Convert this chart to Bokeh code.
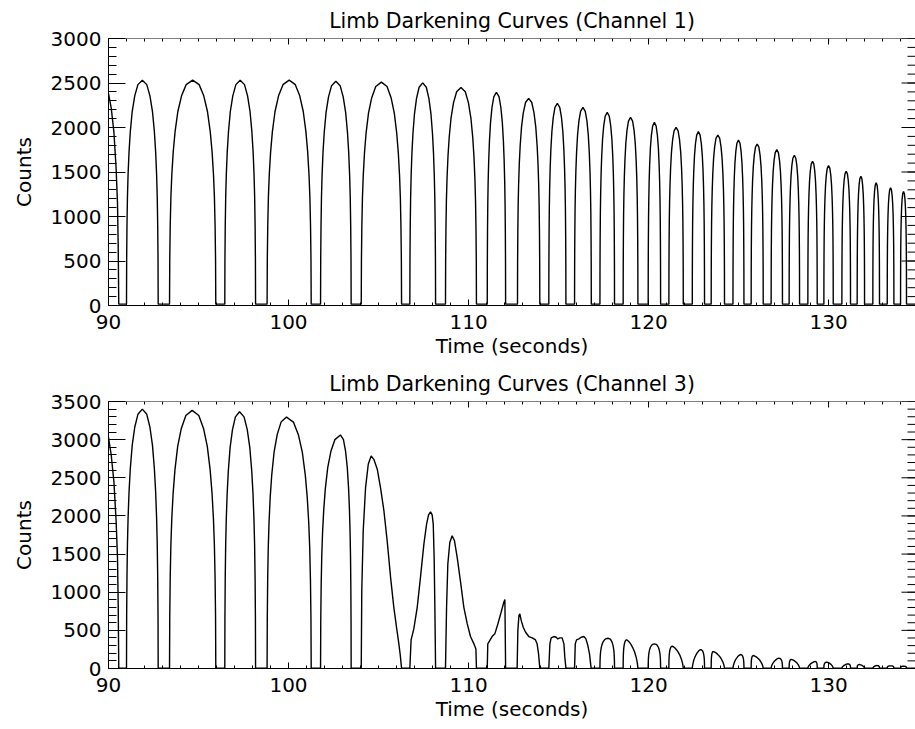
import numpy as np
from bokeh.plotting import figure
from bokeh.layouts import column
from bokeh.models import FixedTicker, Range1d, Span
from bokeh.embed import file_html
from bokeh.resources import INLINE

# ---------------- axis ticks ----------------
X_MAJOR = [90, 100, 110, 120, 130]
X_MINOR = list(range(90, 136))
Y1_MAJOR = [0, 500, 1000, 1500, 2000, 2500, 3000]
Y1_MINOR = list(range(0, 3001, 100))
Y3_MAJOR = [0, 500, 1000, 1500, 2000, 2500, 3000, 3500]
Y3_MINOR = list(range(0, 3501, 100))
X_MIN, X_MAX = 90.0, 134.83

# ---------------- arch timing (same rotation for both channels) ----------------
ARCH_START = [91.0, 93.39, 96.46, 98.81, 101.78, 104.04, 106.74, 108.72, 111.04, 112.72,
              114.46, 115.89, 117.3, 118.59, 119.98, 121.13, 122.43, 123.48, 124.69, 125.7,
              126.81, 127.81, 128.85, 129.74, 130.74, 131.59, 132.46, 133.26, 134.0]
ARCH_END = [92.76, 95.96, 98.17, 101.26, 103.48, 106.28, 108.17, 110.44, 112.06, 113.96,
            115.41, 116.82, 118.11, 119.41, 120.67, 121.93, 123.11, 124.22, 125.3, 126.37,
            127.44, 128.39, 129.37, 130.26, 131.22, 132.0, 132.83, 133.63, 134.33]

# ---------------- channel 1 ----------------
CH1_BASE = 15
CH1_HEAD_T = [90.0, 90.15, 90.30, 90.42, 90.50, 90.54, 90.57]
CH1_HEAD_C = [2380, 2220, 1950, 1550, 1150, 650, 15]
CH1_PEAK = [2532, 2532, 2532, 2532, 2520, 2510, 2502, 2450, 2394, 2327,
            2271, 2226, 2170, 2114, 2058, 2002, 1953, 1916, 1860, 1815,
            1752, 1688, 1621, 1572, 1509, 1453, 1379, 1323, 1281]
CH1_PEAK_FRAC = [0.5] * 29

# ---------------- channel 3 ----------------
CH3_BASE = 5
CH3_HEAD_T = [90.0, 90.15, 90.30, 90.42, 90.50, 90.54, 90.57]
CH3_HEAD_C = [3030, 2800, 2450, 1950, 1450, 820, 5]
CH3_PEAK = [3400, 3384, 3366, 3296, 3061, 2786, 2054, 1740, 903, 715,
            419, 419, 397, 375, 323, 292, 248, 222, 183, 170,
            135, 118, 92, 83, 61, 52, 39, 35, 30]
CH3_PEAK_FRAC = [0.5, 0.49, 0.48, 0.44, 0.65, 0.5, 0.5, 0.5, 0.5, 0.5,
                 0.5, 0.5, 0.55, 0.23, 0.5, 0.23, 0.68, 0.15, 0.7, 0.17,
                 0.68, 0.2, 0.8, 0.3, 0.7, 0.3, 0.6, 0.5, 0.5]
# irregular channel-3 passes, read point by point
CH3_A6_T = [104.04, 104.07, 104.15, 104.28, 104.43, 104.59, 104.74, 104.93, 105.11, 105.30,
            105.48, 105.67, 105.85, 106.00, 106.13, 106.20, 106.28]
CH3_A6_C = [5, 1020, 1805, 2372, 2677, 2786, 2742, 2612, 2372, 2067,
            1674, 1195, 802, 541, 323, 192, 5]
CH3_A7_T = [106.74, 106.81, 106.96, 107.15, 107.33, 107.52, 107.67, 107.78, 107.89, 107.98,
            108.04, 108.09, 108.13, 108.17]
CH3_A7_C = [5, 375, 519, 802, 1195, 1631, 1892, 2014, 2054, 2014, 1892, 1456, 802, 5]
CH3_A8_T = [108.72, 108.78, 108.85, 108.96, 109.09, 109.22, 109.37, 109.56, 109.74, 109.93,
            110.11, 110.30, 110.41, 110.44]
CH3_A8_C = [5, 802, 1369, 1652, 1740, 1674, 1456, 1129, 802, 584, 419, 323, 257, 5]
CH3_A9_T = [111.04, 111.07, 111.17, 111.31, 111.46, 111.63, 111.81, 111.96, 112.02, 112.06]
CH3_A9_C = [5, 323, 362, 419, 454, 584, 737, 868, 903, 5]
CH3_A10_T = [112.70, 112.74, 112.80, 112.85, 112.93, 113.04, 113.17, 113.35, 113.54, 113.72,
             113.81, 113.89, 113.96]
CH3_A10_C = [5, 497, 693, 715, 628, 541, 475, 419, 401, 375, 323, 192, 5]
CH3_A11_T = [114.46, 114.52, 114.59, 114.74, 114.87, 114.96, 115.07, 115.20, 115.30, 115.35, 115.41]
CH3_A11_C = [5, 323, 401, 419, 410, 388, 401, 401, 323, 144, 5]
CH3_A12_T = [115.89, 115.93, 116.00, 116.13, 116.26, 116.41, 116.52, 116.63, 116.72, 116.81]
CH3_A12_C = [5, 323, 375, 388, 410, 419, 388, 301, 192, 5]
CH3_SPECIAL = {5: (CH3_A6_T, CH3_A6_C), 6: (CH3_A7_T, CH3_A7_C), 7: (CH3_A8_T, CH3_A8_C),
               8: (CH3_A9_T, CH3_A9_C), 9: (CH3_A10_T, CH3_A10_C), 10: (CH3_A11_T, CH3_A11_C),
               11: (CH3_A12_T, CH3_A12_C)}

# ---------------- arch shape (read from one wide pass), base -> peak ----------------
STEEP_F = [0, 0.01, 0.03, 0.06, 0.10, 0.16, 0.24, 0.36, 0.52, 0.72, 1.0]
STEEP_H = [0, 0.20, 0.35, 0.48, 0.58, 0.68, 0.77, 0.86, 0.93, 0.98, 1.0]
SLOW_F = [0, 0.05, 0.15, 0.30, 0.45, 0.60, 0.75, 0.90, 1.0]
SLOW_H = [0, 0.18, 0.38, 0.58, 0.72, 0.83, 0.92, 0.98, 1.0]


def arch_points(t0, t1, peak, frac, base, small=False):
    tp = t0 + frac * (t1 - t0)
    lf, lh = STEEP_F, STEEP_H
    rf, rh = STEEP_F, STEEP_H
    if small and frac < 0.45:
        rf, rh = SLOW_F, SLOW_H
    elif small and frac > 0.55:
        lf, lh = SLOW_F, SLOW_H
    ts, cs = [], []
    for f, h in zip(lf, lh):
        ts.append(t0 + f * (tp - t0))
        cs.append(base + (peak - base) * h)
    for f, h in reversed(list(zip(rf, rh))[:-1]):
        ts.append(t1 - f * (t1 - tp))
        cs.append(base + (peak - base) * h)
    return ts, cs


def build(head_t, head_c, peaks, fracs, base, special=None, small_from=99):
    T, C = list(head_t), list(head_c)
    for i in range(len(ARCH_START)):
        if special and i in special:
            ts, cs = special[i]
        else:
            ts, cs = arch_points(ARCH_START[i], ARCH_END[i], peaks[i], fracs[i], base,
                                 small=(i >= small_from))
        T.extend(ts)
        C.extend(cs)
    T.append(135.0)
    C.append(base)
    return T, C


ch1_t, ch1_c = build(CH1_HEAD_T, CH1_HEAD_C, CH1_PEAK, CH1_PEAK_FRAC, CH1_BASE)
ch3_t, ch3_c = build(CH3_HEAD_T, CH3_HEAD_C, CH3_PEAK, CH3_PEAK_FRAC, CH3_BASE,
                     special=CH3_SPECIAL, small_from=12)

FONT = "DejaVu Sans"
FS = "20px"


def style_axis(ax, tin, minor_in):
    ax.axis_line_color = "black"
    ax.axis_line_width = 1
    ax.major_tick_in = tin
    ax.major_tick_out = 0
    ax.minor_tick_in = minor_in
    ax.minor_tick_out = 0
    ax.major_tick_line_color = "black"
    ax.minor_tick_line_color = "black"
    ax.major_label_text_font = FONT
    ax.major_label_text_color = "black"
    ax.major_label_text_font_size = FS
    ax.axis_label_text_font = FONT
    ax.axis_label_text_font_size = FS
    ax.axis_label_text_font_style = "normal"
    ax.axis_label_text_color = "black"


def panel(title, t, c, ymax, ymaj, ymin, height, top_b, bot_b):
    p = figure(width=915, height=height, x_range=Range1d(X_MIN, X_MAX), y_range=Range1d(0, ymax),
               output_backend="svg", toolbar_location=None, title=title,
               min_border_left=108, min_border_right=0, min_border_top=top_b,
               min_border_bottom=bot_b, x_axis_label="Time (seconds)", y_axis_label="Counts")
    p.line(t, c, line_color="black", line_width=1.4)
    p.xgrid.visible = False
    p.ygrid.visible = False
    p.outline_line_color = None
    p.background_fill_color = "white"
    p.border_fill_color = "white"
    p.title.text_font = FONT
    p.title.text_font_size = "20.5px"
    p.title.text_font_style = "normal"
    p.title.text_color = "black"
    p.title.align = "center"
    p.title.standoff = 12

    xa = p.xaxis[0]
    xa.ticker = FixedTicker(ticks=X_MAJOR, minor_ticks=X_MINOR)
    style_axis(xa, 6, 3)
    xa.major_label_standoff = 9
    xa.axis_label_standoff = 2
    ya = p.yaxis[0]
    ya.ticker = FixedTicker(ticks=ymaj, minor_ticks=ymin)
    style_axis(ya, 17, 8)
    ya.major_label_standoff = 7
    ya.axis_label_standoff = 12

    # top frame line and inward ticks on the top and right edges (no labels there)
    p.add_layout(Span(location=ymax, dimension="width", line_color="black", line_width=1))
    p.ray(x=X_MAJOR, y=ymax, length=6, angle=-np.pi / 2, length_units="screen",
          line_color="black", line_width=1)
    p.ray(x=X_MINOR, y=ymax, length=3, angle=-np.pi / 2, length_units="screen",
          line_color="black", line_width=1)
    p.ray(x=X_MAX, y=ymaj, length=14, angle=np.pi, length_units="screen",
          line_color="black", line_width=1)
    p.ray(x=X_MAX, y=ymin, length=8, angle=np.pi, length_units="screen",
          line_color="black", line_width=1)
    return p


p1 = panel("Limb Darkening Curves (Channel 1)", ch1_t, ch1_c, 3000, Y1_MAJOR, Y1_MINOR, 363, 38, 58)
p3 = panel("Limb Darkening Curves (Channel 3)", ch3_t, ch3_c, 3500, Y3_MAJOR, Y3_MINOR, 366, 38, 61)

layout = column(p1, p3)
open("out.html", "w").write(file_html(layout, INLINE))
